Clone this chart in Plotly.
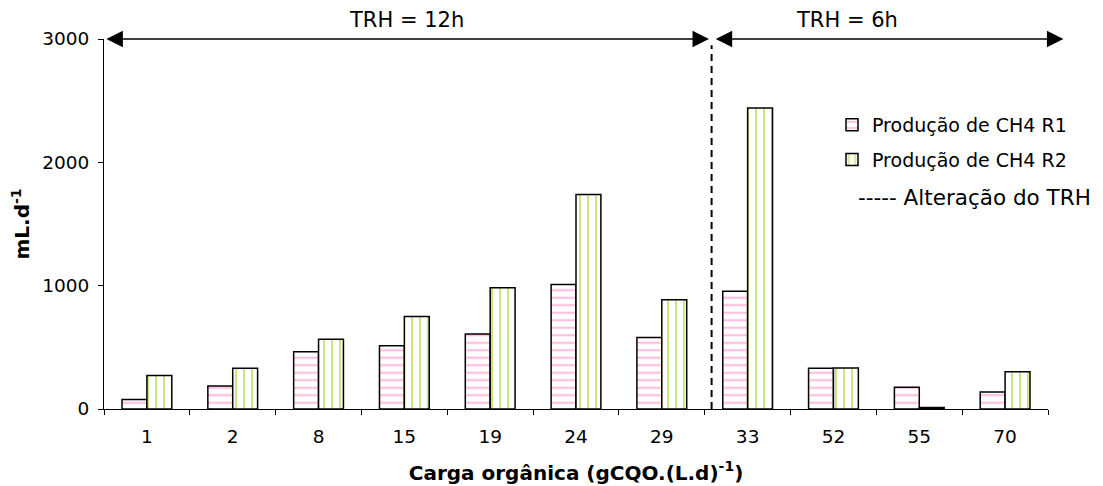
import plotly.graph_objects as go

categories = ["1", "2", "8", "15", "19", "24", "29", "33", "52", "55", "70"]
r1_values = [78, 186, 465, 513, 608, 1010, 580, 955, 330, 176, 138]
r2_values = [272, 330, 565, 749, 984, 1740, 885, 2440, 332, 12, 302]
r1_name = "Produção de CH4 R1"
r2_name = "Produção de CH4 R2"
y_ticks = [0, 1000, 2000, 3000]

FONT = "DejaVu Sans"
# page body has an 8px margin; compensate so the plot lands where the reference has it
OFF = 8
PL, PT, PW, PH = 104 - OFF, 39 - OFF, 944, 370
W, H = 1103 - OFF, 486 - OFF
BOTTOM = 409  # plot bottom in page pixels

fig = go.Figure()
fig.add_trace(go.Bar(
    x=categories, y=r1_values, name=r1_name, legendgroup="a",
    marker=dict(color="white", line=dict(color="black", width=1.5),
                pattern=dict(shape="-", fgcolor="#ff7fbf", bgcolor="white",
                             size=7.5, solidity=0.3, fillmode="overlay")),
))
fig.add_trace(go.Bar(
    x=categories, y=r2_values, name=r2_name, legendgroup="b",
    marker=dict(color="white", line=dict(color="black", width=1.5),
                pattern=dict(shape="|", fgcolor="#99cc00", bgcolor="white",
                             size=8, solidity=0.25, fillmode="overlay")),
))

# vertical dashed line (TRH change)
fig.add_shape(type="line", xref="x", yref="y", x0=6.58, x1=6.58, y0=0, y1=2950,
              line=dict(color="black", width=2, dash="7px,5px"))

# double-headed arrows
for x0, x1 in [(-0.49, 6.55), (6.61, 10.68)]:
    fig.add_annotation(x=x1, y=3000, ax=x0, ay=3000, xref="x", yref="y",
                       axref="x", ayref="y", text="", showarrow=True,
                       arrowhead=2, arrowside="end+start", arrowsize=2.2,
                       arrowwidth=1.5, arrowcolor="black")

fig.add_annotation(x=3.03, y=(BOTTOM - 20) / PH, xref="x", yref="paper", text="TRH = 12h",
                   showarrow=False, yanchor="middle",
                   font=dict(family=FONT, size=21, color="black"))
fig.add_annotation(x=8.16, y=(BOTTOM - 20) / PH, xref="x", yref="paper", text="TRH = 6h",
                   showarrow=False, yanchor="middle",
                   font=dict(family=FONT, size=21, color="black"))
fig.add_annotation(x=(856 - 104) / PW, y=(BOTTOM - 197) / PH, xref="paper", yref="paper",
                   text="----- Alteração do TRH", showarrow=False, xanchor="left",
                   yanchor="middle",
                   font=dict(family=FONT, size=21.5, color="black"))

fig.update_layout(
    width=W, height=H,
    margin=dict(l=PL, r=W - PL - PW, t=PT, b=H - PT - PH),
    paper_bgcolor="white", plot_bgcolor="white",
    font=dict(family=FONT, size=18.5, color="black"),
    barmode="group", bargap=0.42, bargroupgap=0,
    showlegend=True,
    legend=dict(x=(832 - 104) / PW, y=(BOTTOM - 106) / PH, xanchor="left", yanchor="top",
                font=dict(family=FONT, size=19, color="black"),
                bgcolor="rgba(0,0,0,0)", tracegroupgap=7, itemwidth=30),
    xaxis=dict(
        type="category", range=[-0.5, 10.5], automargin=False,
        showline=True, linecolor="black", linewidth=1,
        ticks="outside", tickson="boundaries", ticklen=5, tickcolor="black",
        ticklabelstandoff=11,
        showgrid=False,
        title=dict(text="<b>Carga orgânica (gCQO.(L.d)<sup>-1</sup>)</b>",
                   font=dict(family=FONT, size=20), standoff=19),
    ),
    yaxis=dict(
        range=[0, 3000], tickvals=y_ticks, automargin=False,
        showline=True, linecolor="black", linewidth=1,
        ticks="outside", ticklen=5, tickcolor="black",
        ticklabelstandoff=5,
        showgrid=False, zeroline=False,
        title=dict(text="<b>mL.d<sup>-1</sup></b>",
                   font=dict(family=FONT, size=20), standoff=8),
    ),
)

fig.write_html("out.html")
